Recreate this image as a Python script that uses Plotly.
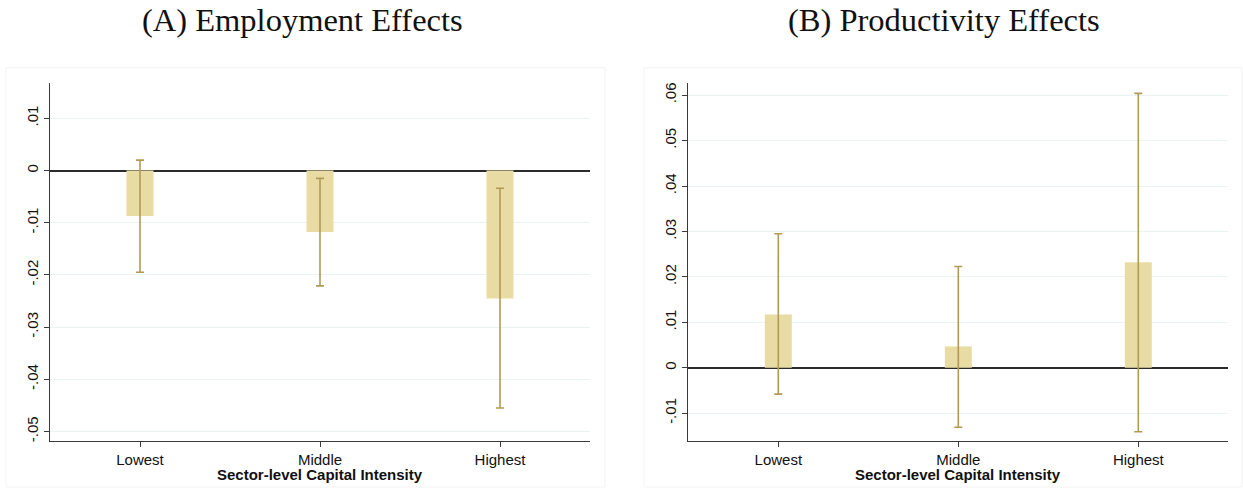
import plotly.graph_objects as go

categories = ["Lowest", "Middle", "Highest"]

emp_coef = [-0.0087, -0.0118, -0.0245]
emp_lo = [-0.0195, -0.0221, -0.0455]
emp_hi = [0.0020, -0.0015, -0.0034]

prod_coef = [0.0117, 0.0047, 0.0232]
prod_lo = [-0.0058, -0.0131, -0.0141]
prod_hi = [0.0295, 0.0223, 0.0604]

emp_tickvals = [-0.05, -0.04, -0.03, -0.02, -0.01, 0, 0.01]
emp_ticktext = ["-.05", "-.04", "-.03", "-.02", "-.01", "0", ".01"]
prod_tickvals = [-0.01, 0, 0.01, 0.02, 0.03, 0.04, 0.05, 0.06]
prod_ticktext = ["-.01", "0", ".01", ".02", ".03", ".04", ".05", ".06"]

titles = ["(A) Employment Effects", "(B) Productivity Effects"]
xtitle = "Sector-level Capital Intensity"

W, H = 1243, 491
BAR = "#E8DCA4"
ERR = "#B19A58"
AX = "#3a3a3a"
GRID = "#EAF2F3"


def err(coef, lo, hi):
    return dict(
        type="data", symmetric=False,
        array=[h - c for c, h in zip(coef, hi)],
        arrayminus=[c - l for c, l in zip(coef, lo)],
        color=ERR, thickness=1.6, width=4,
    )


fig = go.Figure()
fig.add_trace(go.Bar(x=categories, y=emp_coef, width=0.15, marker=dict(color=BAR, line=dict(width=0)),
                     error_y=err(emp_coef, emp_lo, emp_hi), xaxis="x", yaxis="y", showlegend=False))
fig.add_trace(go.Bar(x=categories, y=prod_coef, width=0.15, marker=dict(color=BAR, line=dict(width=0)),
                     error_y=err(prod_coef, prod_lo, prod_hi), xaxis="x2", yaxis="y2", showlegend=False))

ydom = [1 - 441.7 / H, 1 - 82.7 / H]
xd1 = [50 / W, 590 / W]
xd2 = [688.3 / W, 1228.3 / W]

xcommon = dict(
    range=[-0.5, 2.5], showline=True, linecolor=AX, linewidth=1.3, ticks="outside",
    ticklen=5, tickcolor=AX, tickwidth=1.2, showgrid=False, zeroline=False,
    tickfont=dict(family="Liberation Sans, Arial, sans-serif", size=15, color="#111"),
)
ycommon = dict(
    showline=True, linecolor=AX, linewidth=1.3, ticks="outside", ticklen=5,
    tickcolor=AX, tickwidth=1.2, showgrid=True, gridcolor=GRID, gridwidth=1.2,
    zeroline=True, zerolinecolor="#2b2b2b", zerolinewidth=2, tickangle=-90,
    tickfont=dict(family="Liberation Sans, Arial, sans-serif", size=15, color="#111"),
)

fig.update_layout(
    width=W, height=H, margin=dict(l=0, r=0, t=0, b=0),
    paper_bgcolor="white", plot_bgcolor="white", barmode="overlay",
    xaxis=dict(domain=xd1, anchor="y", **xcommon),
    yaxis=dict(domain=ydom, anchor="x", range=[-0.0518, 0.0167],
               tickvals=emp_tickvals, ticktext=emp_ticktext, **ycommon),
    xaxis2=dict(domain=xd2, anchor="y2", **xcommon),
    yaxis2=dict(domain=ydom, anchor="x2", range=[-0.0161, 0.0626],
                tickvals=prod_tickvals, ticktext=prod_ticktext, **ycommon),
)

# panel borders
for x0, x1 in [(6, 605), (644, 1242)]:
    fig.add_shape(type="rect", xref="paper", yref="paper",
                  x0=x0 / W, x1=x1 / W, y0=1 - 488 / H, y1=1 - 67 / H,
                  line=dict(color="#F3F3F3", width=1), fillcolor="rgba(0,0,0,0)", layer="below")

# titles
for t, cx in zip(titles, [302, 944]):
    fig.add_annotation(text=t, xref="paper", yref="paper", x=cx / W, y=1 - 19 / H,
                       xanchor="center", yanchor="middle", showarrow=False,
                       font=dict(family="Liberation Serif, Times New Roman, serif", size=32.5, color="#111"))

# x-axis titles
for cx in [320, 958]:
    fig.add_annotation(text="<b>" + xtitle + "</b>", xref="paper", yref="paper", x=cx / W, y=1 - 475 / H,
                       xanchor="center", yanchor="middle", showarrow=False,
                       font=dict(family="Liberation Sans, Arial, sans-serif", size=15, color="#111"))

fig.write_html("out.html")
